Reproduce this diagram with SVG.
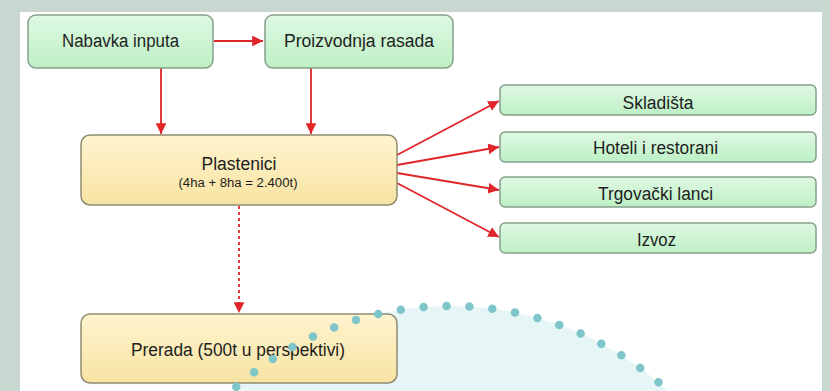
<svg xmlns="http://www.w3.org/2000/svg" width="830" height="391" viewBox="0 0 830 391">
  <defs>
    <linearGradient id="gGreen" x1="0" y1="0" x2="0" y2="1">
      <stop offset="0" stop-color="#dff9e2"/>
      <stop offset="1" stop-color="#bdf0c5"/>
    </linearGradient>
    <linearGradient id="gYellow" x1="0" y1="0" x2="0" y2="1">
      <stop offset="0" stop-color="#fff4cf"/>
      <stop offset="1" stop-color="#f7e3a2"/>
    </linearGradient>
    <marker id="arr" viewBox="0 0 10 10" refX="10" refY="5" markerWidth="6" markerHeight="6" orient="auto" markerUnits="strokeWidth">
      <path d="M0,0 L10,5 L0,10 z" fill="#e0262a"/>
    </marker>
    <style>
      .green { fill: url(#gGreen); stroke: #86a08b; stroke-width: 1.5; }
      .yellow { fill: url(#gYellow); stroke: #8f8c72; stroke-width: 1.5; }
      .lbl { font-family: "Liberation Sans", Arial, sans-serif; font-size: 18px; fill: #1e1e1e; text-anchor: middle; }
      .sub { font-family: "Liberation Sans", Arial, sans-serif; font-size: 12.5px; fill: #1e1e1e; text-anchor: middle; }
      .conn { stroke: #e0262a; stroke-width: 1.8; fill: none; marker-end: url(#arr); }
      .dash { stroke-dasharray: 3 3; }
    </style>
  </defs>

  <rect x="0" y="0" width="830" height="391" fill="#c8d7cf"/>
  <rect x="20" y="12" width="802" height="379" fill="#ffffff"/>

  <!-- decorative circle fill -->
  <circle cx="450" cy="629" r="323" fill="#e6f5f5"/>

  <g id="connectors">
    <line class="conn" x1="214" y1="41" x2="263" y2="41"/>
    <line class="conn" x1="161" y1="68" x2="161" y2="134"/>
    <line class="conn" x1="311" y1="68" x2="311" y2="134"/>
    <line class="conn" x1="397" y1="155" x2="499" y2="101"/>
    <line class="conn" x1="397" y1="165" x2="499" y2="147"/>
    <line class="conn" x1="397" y1="173" x2="499" y2="190"/>
    <line class="conn" x1="397" y1="183" x2="499" y2="237"/>
    <line class="conn dash" x1="239" y1="206" x2="239" y2="313"/>
  </g>

  <g id="nabavka">
    <rect class="green" x="28" y="15" width="185" height="53" rx="8"/>
    <text class="lbl" x="120.5" y="47" textLength="117" lengthAdjust="spacingAndGlyphs">Nabavka inputa</text>
  </g>
  <g id="proizvodnja">
    <rect class="green" x="265" y="15" width="188" height="53" rx="8"/>
    <text class="lbl" x="359" y="47" textLength="150" lengthAdjust="spacingAndGlyphs">Proizvodnja rasada</text>
  </g>
  <g id="plastenici">
    <rect class="yellow" x="81" y="135" width="316" height="70" rx="9"/>
    <text class="lbl" x="239" y="169.5" textLength="75" lengthAdjust="spacingAndGlyphs">Plastenici</text>
    <text class="sub" x="238" y="186.5" textLength="119" lengthAdjust="spacingAndGlyphs">(4ha + 8ha = 2.400t)</text>
  </g>
  <g id="skladista">
    <rect class="green" x="500" y="85" width="316" height="30" rx="5"/>
    <text class="lbl" x="658" y="108.5" textLength="71" lengthAdjust="spacingAndGlyphs">Skladišta</text>
  </g>
  <g id="hoteli">
    <rect class="green" x="500" y="132" width="316" height="30" rx="5"/>
    <text class="lbl" x="655.5" y="153.5" textLength="125" lengthAdjust="spacingAndGlyphs">Hoteli i restorani</text>
  </g>
  <g id="trgovacki">
    <rect class="green" x="500" y="177" width="316" height="30" rx="5"/>
    <text class="lbl" x="655.5" y="199.5" textLength="115" lengthAdjust="spacingAndGlyphs">Trgovački lanci</text>
  </g>
  <g id="izvoz">
    <rect class="green" x="500" y="223" width="316" height="30" rx="5"/>
    <text class="lbl" x="656.5" y="245.5" textLength="39" lengthAdjust="spacingAndGlyphs">Izvoz</text>
  </g>
  <g id="prerada">
    <rect class="yellow" x="81" y="314" width="316" height="69" rx="9"/>
    <text class="lbl" x="238" y="355.5" textLength="214" lengthAdjust="spacingAndGlyphs">Prerada (500t u perspektivi)</text>
  </g>

  <!-- decorative dotted arc -->
  <circle cx="450" cy="629" r="323" fill="none" stroke="#7fc6cb" stroke-width="8.5" stroke-linecap="round" stroke-dasharray="0 23"/>
</svg>
